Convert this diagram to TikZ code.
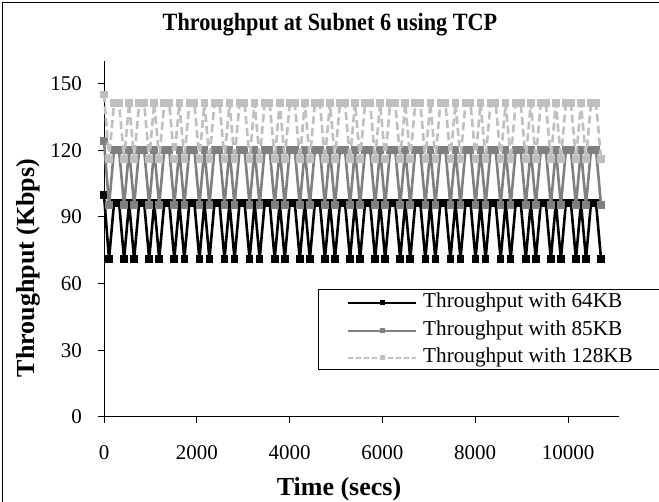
\documentclass[tikz,border=0pt]{standalone}
\usepackage{fontspec}
\setmainfont{Liberation Serif}
\usetikzlibrary{plotmarks}

\tikzset{
  ticklbl/.style={font=\fontsize{21}{25}\selectfont, inner sep=0pt},
  leglbl/.style={font=\fontsize{21.2}{25}\selectfont, inner sep=0pt},
  axtitle/.style={font=\fontsize{26}{30}\selectfont\bfseries, inner sep=0pt},
  axisline/.style={line width=1pt, black},
  series/.style={line width=2.6pt, line join=round, line cap=butt},
  s64/.style={series, draw=black, mark=square*, mark size=3.3pt,
    mark options={solid, fill=black, draw=black, line width=0pt}},
  s85/.style={series, draw=gray, mark=square*, mark size=3.3pt,
    mark options={solid, fill=gray, draw=gray, line width=0pt}},
  s128/.style={series, draw=black!25, dash pattern=on 8pt off 4pt, mark=square*, mark size=3.3pt,
    mark options={solid, fill=black!25, draw=black!25, line width=0pt}},
  legline/.style={line width=1.6pt},
}

\begin{document}
\begin{tikzpicture}[x=1pt,y=1pt]
\useasboundingbox (0,0) rectangle (659,502);
\clip (0,0) rectangle (659,502);

% chart frame
\draw[line width=1.4pt] (2.5,-20) -- (2.5,499.3) -- (700,499.3);

% title
\node[font=\fontsize{22.2}{26}\selectfont\bfseries, inner sep=0pt] (title) at (330,477.5)
  {\scalebox{1}[1.12]{Throughput at Subnet 6 using TCP}};

% plot area: origin at (104,85); 1 s = 0.0464pt, 1 Kbps = 2.2222pt
\begin{scope}[shift={(104,85)}, x=0.0464pt, y=2.2222pt]
  % axes
  \draw[axisline] (0,0) -- (0,160);
  \draw[axisline] (-130,0) -- (11100,0);
  \foreach \v in {0,30,...,150} {
    \draw[axisline] (-130,\v) -- (0,\v);
    \node[ticklbl, anchor=east] at (-470,\v) {\v};
  }
  \foreach \t in {0,2000,...,10000} {
    \draw[axisline] (\t,0) -- (\t,-2.8);
    \node[ticklbl] at (\t,-16.2) {\t};
  }

  % data series (samples every 108.2 s, low value at k mod 5 = 1 or 4)
  \draw[s64] plot[variable=\k, samples at={0,...,99}]
    ({\k*108.2}, {96.4-25.4*(equal(mod(\k,5),1)+equal(mod(\k,5),4))+3.6*equal(\k,0)});
  \draw[s85] plot[variable=\k, samples at={0,...,99}]
    ({\k*108.2}, {120.2-24.9*(equal(mod(\k,5),1)+equal(mod(\k,5),4))+4*equal(\k,0)});
  \draw[s128] plot[variable=\k, samples at={0,...,99}]
    ({\k*108.2}, {141.2-25.1*(equal(mod(\k,5),1)+equal(mod(\k,5),4))+4*equal(\k,0)});
\end{scope}

% axis titles
\node[axtitle] (xtitle) at (339,13) {Time (secs)};
\node[axtitle, rotate=90] (ytitle) at (28,234) {Throughput (Kbps)};

% legend
\draw[line width=0.9pt, fill=white] (318,213) rectangle (700,133);
\draw[legline, black] (348,199) -- (416,199);
\fill[black] (379.5,196.5) rectangle (384.5,201.5);
\node[leglbl, anchor=west] (l64) at (423,199.5) {Throughput with 64KB};
\draw[legline, gray] (348,171) -- (416,171);
\fill[gray] (379.5,168.5) rectangle (384.5,173.5);
\node[leglbl, anchor=west] (l85) at (423,171.5) {Throughput with 85KB};
\draw[legline, black!25, dash pattern=on 5pt off 3pt] (348,144) -- (416,144);
\fill[black!25] (379.5,141.5) rectangle (384.5,146.5);
\node[leglbl, anchor=west] (l128) at (423,144.5) {Throughput with 128KB};
\end{tikzpicture}
\end{document}
